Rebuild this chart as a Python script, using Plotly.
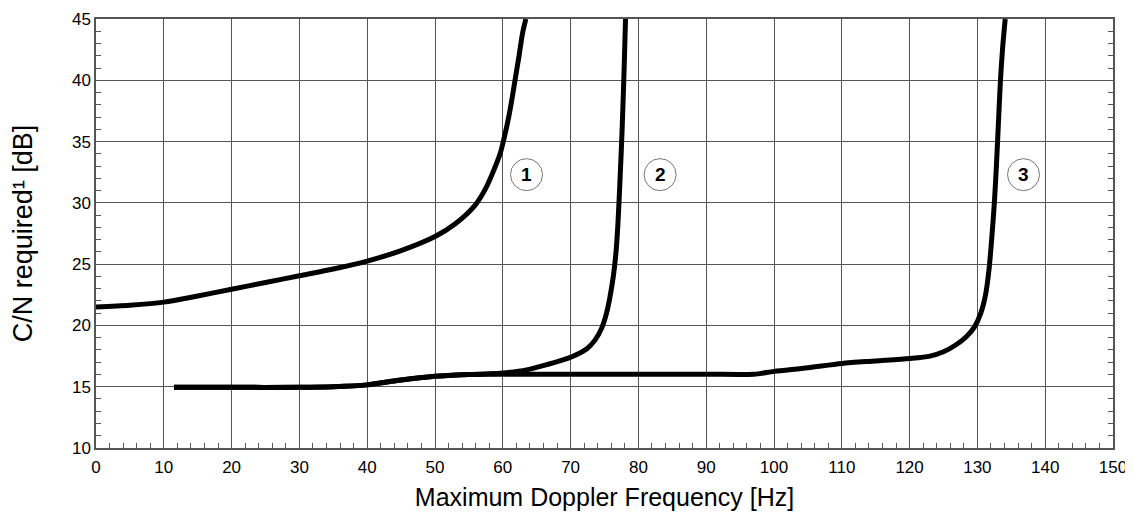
import plotly.graph_objects as go

# Curve 1
c1_x = [0, 5, 10, 15, 20, 25, 30, 35, 40, 45, 50, 53, 55.9, 57.5, 58.7, 59.6, 60.2, 60.8, 61.3, 61.8, 62.4, 62.9, 63.4]
c1_y = [21.5, 21.65, 21.9, 22.4, 22.95, 23.5, 24.05, 24.6, 25.25, 26.1, 27.25, 28.3, 29.8, 31.2, 32.7, 34.0, 35.3, 36.8, 38.3, 40.0, 42.0, 43.8, 45.0]

# Curve 2
c2_x = [11.5, 20, 30, 35, 40, 45, 50, 55, 58, 60, 63.5, 66.5, 70.2, 72.4, 73.6, 74.6, 75.3, 75.8, 76.3, 76.7, 77.0, 77.3, 77.6, 77.9, 78.1]
c2_y = [14.95, 14.95, 14.95, 15.0, 15.15, 15.55, 15.85, 16.0, 16.05, 16.12, 16.37, 16.8, 17.45, 18.1, 18.8, 19.8, 21.0, 22.3, 24.0, 26.0, 28.5, 32.0, 36.0, 41.0, 45.0]

# Curve 3
c3_x = [11.5, 20, 30, 35, 40, 45, 50, 55, 58, 70, 80, 90, 97, 100, 105, 110, 115, 120, 123, 125, 126.8, 128.4, 129.6, 130.5, 131.2, 131.7, 132.1, 132.5, 132.8, 133.1, 133.4, 133.7, 134.1]
c3_y = [14.95, 14.95, 14.95, 15.0, 15.15, 15.55, 15.85, 16.0, 16.02, 16.02, 16.02, 16.02, 16.02, 16.25, 16.55, 16.9, 17.1, 17.3, 17.5, 17.85, 18.4, 19.1, 19.9, 21.0, 22.5, 24.5, 27.0, 30.0, 33.0, 36.5, 40.0, 42.5, 45.0]

labels = ["1", "2", "3"]
label_x = [63.5, 83.2, 136.8]
label_y = [32.3, 32.3, 32.3]

x_ticks = list(range(0, 151, 10))
y_ticks = list(range(10, 46, 5))

fig = go.Figure()
for xs, ys in [(c1_x, c1_y), (c2_x, c2_y), (c3_x, c3_y)]:
    fig.add_trace(go.Scatter(x=xs, y=ys, mode="lines",
                             line=dict(color="black", width=5, shape="spline", smoothing=0.8),
                             showlegend=False, hoverinfo="skip"))

# invisible trace for right-side axis ticks
fig.add_trace(go.Scatter(x=[0], y=[10], yaxis="y2", mode="markers",
                         marker=dict(opacity=0), showlegend=False, hoverinfo="skip"))

for t, xv, yv in zip(labels, label_x, label_y):
    fig.add_shape(type="circle", xref="x", yref="y", xsizemode="pixel", ysizemode="pixel",
                  xanchor=xv, yanchor=yv, x0=-16, x1=16, y0=-16, y1=16,
                  line=dict(color="#777777", width=1))
    fig.add_annotation(x=xv, y=yv, text="<b>" + t + "</b>", showarrow=False,
                       font=dict(family="Liberation Sans, Arial", size=19, color="black"))

axis_font = dict(family="Liberation Sans, Arial", size=17, color="black")
grid_c = "#555555"
fig.update_layout(
    width=1125, height=503,
    margin=dict(l=88, r=20, t=11, b=63),
    plot_bgcolor="white", paper_bgcolor="white",
    xaxis=dict(range=[0, 150], tickvals=x_ticks, showgrid=True, gridcolor=grid_c, gridwidth=1,
               showline=True, linecolor=grid_c, linewidth=1.5, mirror=True,
               ticks="inside", ticklen=6, tickcolor=grid_c, automargin=False,
               ticklabelstandoff=3,
               minor=dict(dtick=2, ticks="inside", ticklen=5, tickcolor=grid_c, showgrid=False),
               tickfont=axis_font, zeroline=False,
               title=dict(text="Maximum Doppler Frequency [Hz]",
                          font=dict(family="Liberation Sans, Arial", size=25, color="black"), standoff=28)),
    yaxis=dict(range=[10, 45], tickvals=y_ticks, showgrid=True, gridcolor=grid_c, gridwidth=1,
               showline=True, linecolor=grid_c, linewidth=1.5, mirror=True,
               ticks="inside", ticklen=6, tickcolor=grid_c, automargin=False,
               minor=dict(dtick=1, ticks="inside", ticklen=5, tickcolor=grid_c, showgrid=False),
               tickfont=axis_font, zeroline=False,
               title=dict(text="C/N required¹ [dB]",
                          font=dict(family="Liberation Sans, Arial", size=27, color="black"), standoff=33)),
    yaxis2=dict(range=[10, 45], overlaying="y", side="right", showgrid=False, showticklabels=False,
                ticks="inside", ticklen=6, tickcolor=grid_c, tickvals=y_ticks, automargin=False,
                minor=dict(dtick=1, ticks="inside", ticklen=5, tickcolor=grid_c, showgrid=False),
                showline=False, zeroline=False),
)

fig.write_html("out.html")
